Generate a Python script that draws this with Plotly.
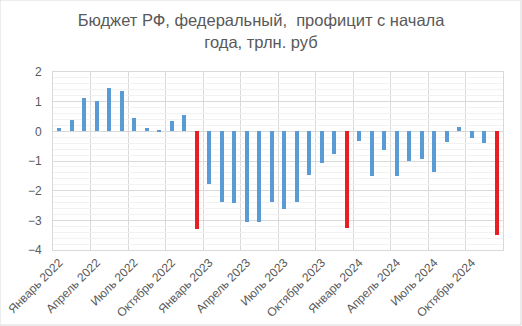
import plotly.graph_objects as go

months = ["Январь", "Февраль", "Март", "Апрель", "Май", "Июнь", "Июль",
          "Август", "Сентябрь", "Октябрь", "Ноябрь", "Декабрь"]
years = [2022, 2023, 2024]
categories = [f"{m} {y}" for y in years for m in months]

values = [0.11, 0.38, 1.13, 1.02, 1.46, 1.36, 0.46, 0.11, 0.05, 0.35, 0.55, -3.30,
          -1.78, -2.39, -2.42, -3.06, -3.05, -2.37, -2.61, -2.37, -1.47, -1.06, -0.76, -3.25,
          -0.32, -1.50, -0.63, -1.50, -1.00, -0.93, -1.37, -0.36, 0.15, -0.22, -0.39, -3.48]

blue = "#5B9BD5"
red = "#E81E25"
colors = [red if c.startswith("Декабрь") else blue for c in categories]

x_idx = list(range(len(categories)))
tick_idx = x_idx[::3]
tick_text = [categories[i] for i in tick_idx]
boundaries = [i - 0.5 for i in tick_idx] + [len(categories) - 0.5]

fig = go.Figure(go.Bar(x=x_idx, y=values, marker_color=colors, marker_line_width=0,
                       width=0.33, hovertext=categories))

grid = "#D9D9D9"
minor_grid = "#F2F2F2"
text_col = "#595959"

fig.update_layout(
    width=522, height=326,
    margin=dict(l=53, r=19, t=72, b=76, autoexpand=False),
    paper_bgcolor="white", plot_bgcolor="white",
    font=dict(family="Liberation Sans", color=text_col),
    title=dict(text="Бюджет РФ, федеральный,  профицит с начала<br>года, трлн. руб",
               x=0.5, xanchor="center", xref="container", y=0.92, yanchor="middle",
               font=dict(size=16.5, color=text_col)),
    showlegend=False,
    bargap=0,
    xaxis=dict(
        range=[-0.5, len(categories) - 0.5], automargin=False,
        tickmode="array", tickvals=tick_idx, ticktext=tick_text,
        tickangle=-45, tickfont=dict(size=12, color=text_col),
        showgrid=False, zeroline=False,
        showline=True, linecolor=grid, mirror=True, linewidth=1,
        ticks="",
        minor=dict(tickmode="array", tickvals=boundaries, showgrid=True,
                   gridcolor=grid, gridwidth=1, ticks=""),
    ),
    yaxis=dict(
        range=[-4, 2], dtick=1, tick0=0, automargin=False,
        tickfont=dict(size=12, color=text_col),
        showgrid=True, gridcolor=grid, gridwidth=1,
        zeroline=True, zerolinecolor=grid, zerolinewidth=1,
        showline=True, linecolor=grid, mirror=True,
        ticks="outside", ticklen=8, tickcolor="rgba(0,0,0,0)",
        minor=dict(dtick=0.2, showgrid=True, gridcolor=minor_grid, gridwidth=1),
    ),
)

# chart-area border
fig.add_shape(type="rect", xref="paper", yref="paper",
              x0=-53/450, x1=1 + 18/450, y0=-75/178, y1=1 + 72/178,
              line=dict(color=grid, width=1), fillcolor="rgba(0,0,0,0)", layer="below")

fig.write_html("out.html")
